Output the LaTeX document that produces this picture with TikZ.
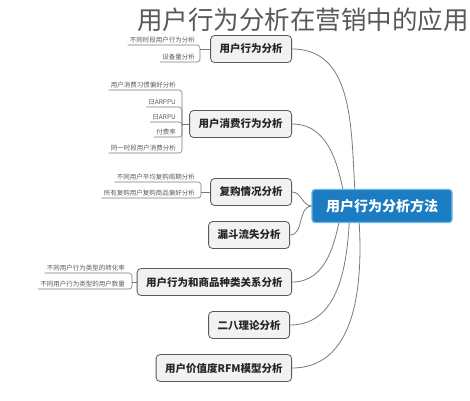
\documentclass[tikz,border=0pt]{standalone}
\usepackage{fontspec}
\setmainfont{Noto Sans CJK SC}
\newfontfamily\cjk{Noto Sans CJK SC}
\usetikzlibrary{positioning}
\pgfdeclarelayer{background}
\pgfdeclarelayer{canvas}
\pgfsetlayers{canvas,background,main}
\definecolor{cblue}{HTML}{1B7CC2}
\definecolor{cblueline}{HTML}{6DB6E8}
\definecolor{bfill}{HTML}{F2F2F2}
\definecolor{bline}{HTML}{5A5A5A}
\definecolor{eline}{HTML}{7A7A7A}
\definecolor{leaftxt}{HTML}{5A5A5A}
\tikzset{
  centralbox/.style={draw=cblueline, line width=1.2pt, fill=cblue, rounded corners=3pt,
    text=white, font=\cjk\bfseries\fontsize{14}{16}\selectfont,
    minimum width=140pt, minimum height=33pt, inner sep=0pt},
  branchbox/.style={draw=bline, line width=0.8pt, fill=bfill, rounded corners=4pt,
    text=black!85, font=\cjk\bfseries\fontsize{10.5}{12}\selectfont,
    minimum height=27pt, inner xsep=9pt, anchor=east},
  leaf/.style={font=\cjk\fontsize{6.5}{7}\selectfont, text=leaftxt, inner xsep=2pt,
    inner ysep=1.5pt, anchor=south east},
  conn/.style={draw=eline, line width=0.8pt},
  leafconn/.style={draw=eline, line width=0.6pt, rounded corners=3pt},
  titletext/.style={font=\cjk\fontsize{25.5}{28}\selectfont, text=black!65, anchor=west, inner sep=0pt}
}
\begin{document}
\begin{tikzpicture}[x=1pt,y=-1pt]
\begin{pgfonlayer}{canvas}
\fill[white] (0,0) rectangle (470,400);
\end{pgfonlayer}
\useasboundingbox (0,0) rectangle (470,400);

\node[titletext] (title) at (137,20) {用户行为分析在营销中的应用};

\node[centralbox] (c) at (382,206) {用户行为分析方法};

\node[branchbox] (b1) at (292,49) {用户行为分析};
\node[branchbox] (b2) at (292,124) {用户消费行为分析};
\node[branchbox] (b3) at (292,192) {复购情况分析};
\node[branchbox] (b4) at (290,235) {漏斗流失分析};
\node[branchbox] (b5) at (292,282) {用户行为和商品种类关系分析};
\node[branchbox] (b6) at (290,325) {二八理论分析};
\node[branchbox] (b7) at (292,368) {用户价值度RFM模型分析};

\coordinate (h1) at (356,206);
\coordinate (h2) at (346,206);
\coordinate (h5) at (342,206);
\coordinate (h6) at (350,206);
\coordinate (h7) at (358,206);

\begin{pgfonlayer}{background}
\draw[conn] (b1.east) to[out=0,in=95] (h1);
\draw[conn] (b2.east) to[out=0,in=100] (h2);
\draw[conn] (b3.east) to[out=0,in=175] (c.west);
\draw[conn] (b4.east) to[out=0,in=185] (c.west);
\draw[conn] (b5.east) to[out=0,in=-100] (h5);
\draw[conn] (b6.east) to[out=0,in=-92] (h6);
\draw[conn] (b7.east) to[out=0,in=-85] (h7);
\end{pgfonlayer}

% leaves of branch 1
\coordinate (j1) at (200,49);
\node[leaf] (l1a) at (197,45) {不同时段用户行为分析};
\node[leaf] (l1b) at (197,62) {设备量分析};
\draw[leafconn] (l1a.south west) -| (j1);
\draw[leafconn] (l1b.south west) -| (j1);
\draw[conn] (j1) -- (b1.west);

% leaves of branch 2
\coordinate (j2) at (182,124);
\node[leaf] (l2a) at (178,90) {用户消费习惯偏好分析};
\node[leaf] (l2b) at (178,107) {日ARPPU};
\node[leaf] (l2c) at (178,122) {日ARPU};
\node[leaf] (l2d) at (178,137) {付费率};
\node[leaf] (l2e) at (178,153) {同一时段用户消费分析};
\draw[leafconn] (l2a.south west) -| (j2);
\draw[leafconn] (l2b.south west) -| (j2);
\draw[leafconn] (l2c.south west) -| (j2);
\draw[leafconn] (l2d.south west) -| (j2);
\draw[leafconn] (l2e.south west) -| (j2);
\draw[conn] (j2) -- (b2.west);

% leaves of branch 3
\coordinate (j3) at (201,192);
\node[leaf] (l3a) at (197,182) {不同用户平均复购周期分析};
\node[leaf] (l3b) at (197,198) {所有复购用户复购商品偏好分析};
\draw[leafconn] (l3a.south west) -| (j3);
\draw[leafconn] (l3b.south west) -| (j3);
\draw[conn] (j3) -- (b3.west);

% leaves of branch 5
\coordinate (j5) at (132,282);
\node[leaf] (l5a) at (127,273) {不同用户行为类型的转化率};
\node[leaf] (l5b) at (127,289) {不同用户行为类型的用户数量};
\draw[leafconn] (l5a.south west) -| (j5);
\draw[leafconn] (l5b.south west) -| (j5);
\draw[conn] (j5) -- (b5.west);
\end{tikzpicture}
\end{document}
